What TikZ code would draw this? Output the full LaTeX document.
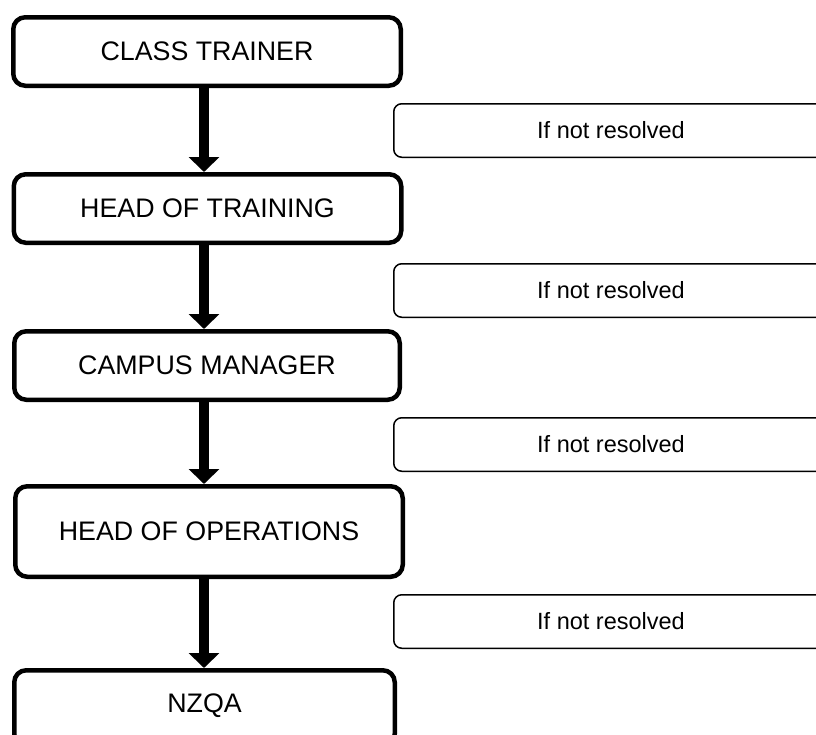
\documentclass[tikz,border=0pt]{standalone}
\usepackage{fontspec}
\setmainfont{Liberation Sans}
\usetikzlibrary{arrows.meta}
\tikzset{
  mainbox/.style={draw=black, line width=4.5pt, rounded corners=12pt, fill=white,
    inner sep=0pt, font=\fontsize{26.8}{30}\selectfont},
  notebox/.style={draw=black, line width=1.5pt, rounded corners=8pt, fill=white,
    inner sep=0pt, minimum width=434.5pt, minimum height=53.5pt,
    font=\fontsize{23.5}{27}\selectfont},
  flowarrow/.style={line width=10pt, -{Triangle[width=30pt,length=15pt]}}
}
\begin{document}
\begin{tikzpicture}[x=1pt,y=-1pt]
\useasboundingbox (0,0) rectangle (816,734);
\clip (0,0) rectangle (816,734);
\fill[white] (0,0) rectangle (816,734);
\node[mainbox, minimum width=387.5pt, minimum height=68.5pt] (b1) at (207,51.5) {CLASS TRAINER};
\node[mainbox, minimum width=387.5pt, minimum height=68.5pt] (b2) at (207.5,208.5) {HEAD OF TRAINING};
\node[mainbox, minimum width=385.5pt, minimum height=68.5pt] (b3) at (207,365.5) {CAMPUS MANAGER};
\node[mainbox, minimum width=387.5pt, minimum height=90.5pt] (b4) at (209,531.5) {HEAD OF OPERATIONS};
\node[mainbox, minimum width=380.5pt, minimum height=75.5pt, text height=27.6pt, text depth=19pt] (b5) at (204.5,708) {NZQA};
\node[notebox] (n1) at (611,130.5) {If not resolved};
\node[notebox] (n2) at (611,290.5) {If not resolved};
\node[notebox] (n3) at (611,444.5) {If not resolved};
\node[notebox] (n4) at (611,621.5) {If not resolved};
\draw[flowarrow] (b1.south -| 204,0) -- (b2.north -| 204,0);
\draw[flowarrow] (b2.south -| 204,0) -- (b3.north -| 204,0);
\draw[flowarrow] (b3.south -| 204,0) -- (b4.north -| 204,0);
\draw[flowarrow] (b4.south -| 204,0) -- (b5.north -| 204,0);
\end{tikzpicture}
\end{document}
